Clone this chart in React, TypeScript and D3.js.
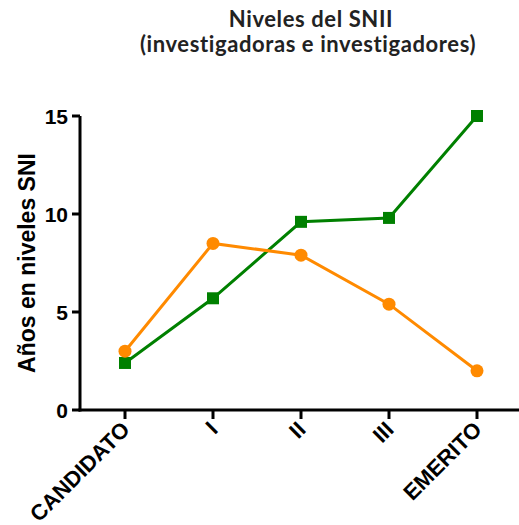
import React from "react";
import * as d3 from "d3";

const categories = ["CANDIDATO", "I", "II", "III", "EMERITO"];
const greenValues = [2.4, 5.7, 9.6, 9.8, 15];
const orangeValues = [3.0, 8.5, 7.9, 5.4, 2.0];
const yTicks = [0, 5, 10, 15];

export default function App() {
  const W = 519, H = 525;
  const x = d3.scalePoint<string>().domain(categories).range([125, 477]);
  const y = d3.scaleLinear().domain([0, 15]).range([410, 116]);
  const line = d3.line<number>().x((_, i) => x(categories[i])!).y((d) => y(d));
  const font = "Arial, 'Liberation Sans', sans-serif";
  return (
    <svg width={W} height={H} style={{ position: "absolute", left: 0, top: 0, background: "#fff" }}>
      <g fontFamily="Lato, 'Open Sans', sans-serif" fontWeight="bold" fill="#222" fontSize={22} letterSpacing={0.6} textAnchor="middle">
        <text x={311} y={27}>Niveles del SNII</text>
        <text x={308} y={52}>(investigadoras e investigadores)</text>
      </g>
      <text transform="translate(35,263) rotate(-90)" textAnchor="middle" fontFamily={font} fontWeight="bold" fontSize={23} fill="#000">Años en niveles SNI</text>
      {/* axes */}
      <line x1={80} y1={116} x2={80} y2={411.5} stroke="#000" strokeWidth={3} />
      <line x1={78.5} y1={410} x2={519} y2={410} stroke="#000" strokeWidth={3} />
      {yTicks.map((t) => (
        <g key={t}>
          <line x1={72} x2={80} y1={y(t)} y2={y(t)} stroke="#000" strokeWidth={3} />
          <text x={68} y={y(t) + 7.5} textAnchor="end" fontFamily={font} fontWeight="bold" fontSize={21}>{t}</text>
        </g>
      ))}
      {categories.map((c) => (
        <g key={c}>
          <line x1={x(c)} x2={x(c)} y1={410} y2={419} stroke="#000" strokeWidth={3} />
          <text transform={`translate(${x(c)! + 6},${431}) rotate(-45)`} textAnchor="end" fontFamily={font} fontWeight="bold" fontSize={22}>{c}</text>
        </g>
      ))}
      <path d={line(greenValues)!} fill="none" stroke="#008000" strokeWidth={3} />
      <path d={line(orangeValues)!} fill="none" stroke="#ff8a00" strokeWidth={3} />
      {greenValues.map((v, i) => (
        <rect key={i} x={x(categories[i])! - 6} y={y(v) - 6} width={12} height={12} fill="#008000" />
      ))}
      {orangeValues.map((v, i) => (
        <circle key={i} cx={x(categories[i])!} cy={y(v)} r={6.5} fill="#ff8a00" />
      ))}
    </svg>
  );
}
